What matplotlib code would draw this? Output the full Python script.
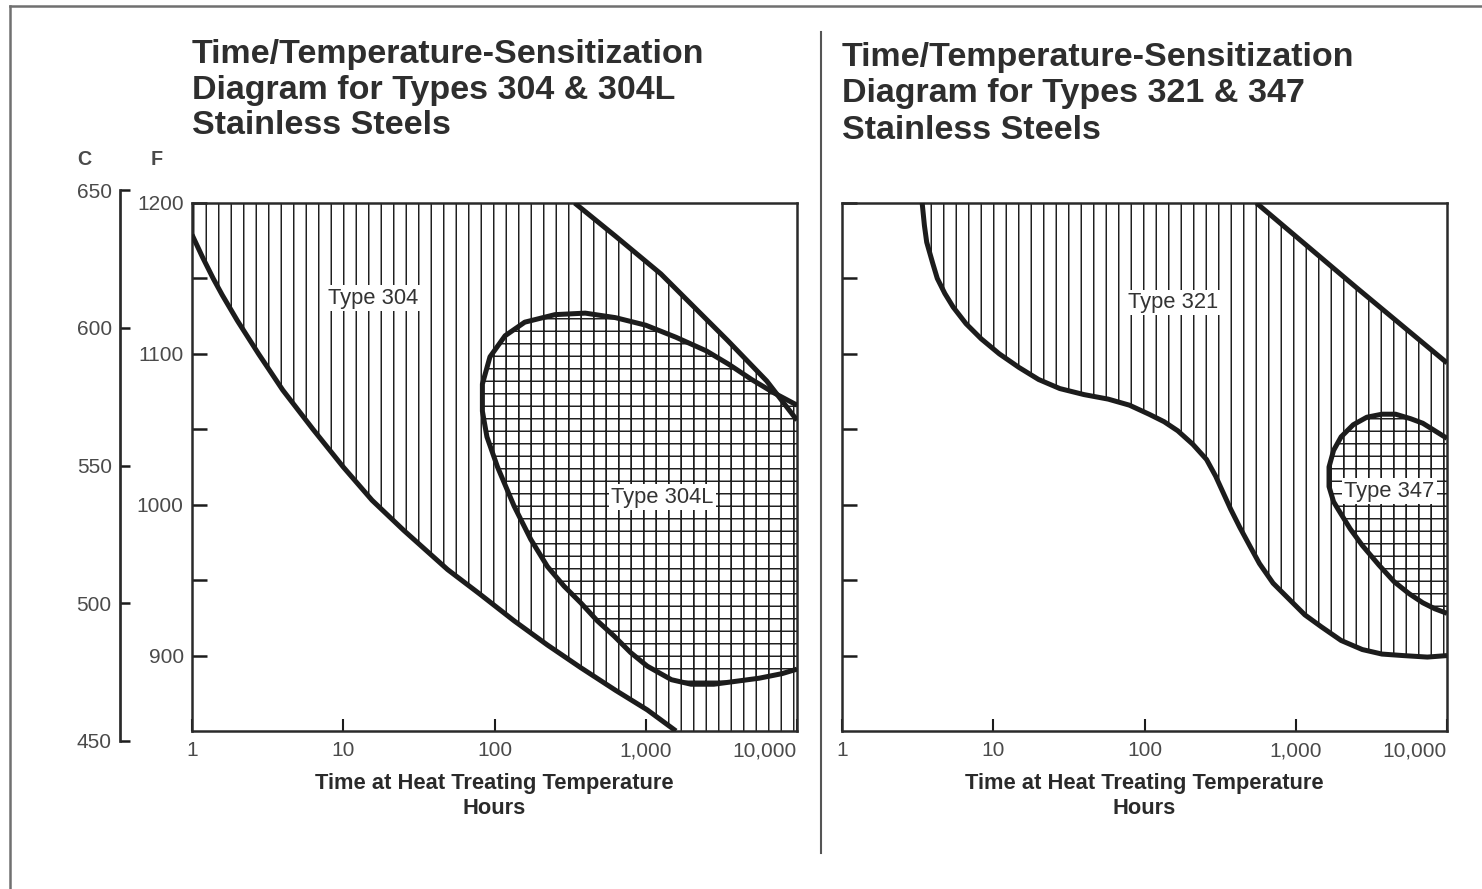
import matplotlib
matplotlib.use('Agg')
import matplotlib.pyplot as plt
from matplotlib.lines import Line2D
from matplotlib.patches import Polygon
from matplotlib.ticker import NullLocator
import numpy as np

plt.rcParams['font.family'] = ['Liberation Sans', 'DejaVu Sans']
plt.rcParams['hatch.linewidth'] = 0.7
plt.rcParams['hatch.color'] = '#222222'

# ---- data: log10(hours) and temperature (F) ----
# Types 304 / 304L
t304_low_logh = [0.0, 0.07, 0.14, 0.2, 0.3, 0.44, 0.6, 0.8, 1.0, 1.19, 1.4,
                 1.69, 1.9, 2.13, 2.35, 2.57, 2.8, 3.01, 3.2]
t304_low_F = [1179, 1164, 1150, 1139, 1122, 1100, 1076, 1050, 1025, 1003, 983,
              957, 941, 923, 907, 892, 877, 864, 850]
t304_up_logh = [2.53, 2.8, 3.1, 3.3, 3.54, 3.8, 4.0]
t304_up_F = [1200, 1178, 1153, 1133, 1109, 1082, 1056]
t304L_logh = [4.0, 3.85, 3.7, 3.55, 3.4, 3.2, 3.0, 2.8, 2.6, 2.4, 2.2, 2.07, 1.97, 1.92,
              1.92, 1.95, 2.02, 2.13, 2.24, 2.35, 2.46, 2.57, 2.68, 2.79, 2.9, 3.01,
              3.17, 3.3, 3.45, 3.6, 3.75, 3.9, 4.0]
t304L_F = [1066, 1074, 1083, 1093, 1102, 1111, 1119, 1124, 1127, 1126, 1121, 1112, 1098, 1080,
           1062, 1045, 1025, 999, 977, 959, 946, 935, 923, 913, 902, 893,
           884, 881, 881, 883, 885, 888, 891]

# Types 321 / 347
t321_low_logh = [0.53, 0.545, 0.56, 0.6, 0.63, 0.68, 0.735, 0.82, 0.92, 1.04, 1.17, 1.3,
                 1.44, 1.6, 1.76, 1.9, 2.03, 2.13, 2.22, 2.32, 2.41, 2.47, 2.52, 2.57,
                 2.63, 2.7, 2.76, 2.85, 2.95, 3.06, 3.17, 3.3, 3.44, 3.57, 3.71, 3.87, 4.0]
t321_low_F = [1200, 1185, 1174, 1160, 1150, 1140, 1131, 1120, 1110, 1100, 1091, 1083,
              1077, 1073, 1070, 1066, 1060, 1055, 1049, 1040, 1030, 1019, 1008, 997,
              985, 972, 961, 948, 938, 927, 919, 910, 904, 901, 900, 899, 900]
t321_up_logh = [2.74, 3.4, 4.0]
t321_up_F = [1200, 1144, 1094]
t347_logh = [4.0, 3.92, 3.84, 3.76, 3.66, 3.57, 3.47, 3.38, 3.3, 3.25, 3.22, 3.22, 3.25,
             3.28, 3.36, 3.44, 3.55, 3.65, 3.75, 3.84, 3.92, 4.0]
t347_F = [1044, 1049, 1054, 1057, 1060, 1060, 1058, 1053, 1045, 1036, 1025, 1012, 1002,
          997, 984, 973, 960, 949, 941, 935, 931, 928]

time_ticks = [1, 10, 100, 1000, 10000]
time_labels = ['1', '10', '100', '1,000', '10,000']
f_ticks = [900, 1000, 1100, 1200]
f_minor = [950, 1050, 1150]
c_ticks = [450, 500, 550, 600, 650]

INK = '#1c1c1c'
GREY = '#4a4a4a'
W, H = 1482, 889


def hrs(logh):
    return 10 ** np.asarray(logh, dtype=float)


def draw_panel(ax, low, up, oval, band_name, band_pos, oval_name, oval_pos, show_f):
    lx, ly = hrs(low[0]), np.asarray(low[1], float)
    ux, uy = hrs(up[0]), np.asarray(up[1], float)
    ox, oy = hrs(oval[0]), np.asarray(oval[1], float)

    # sensitized band (vertical hatch)
    bx = np.concatenate([[1], lx, [1e4], ux[::-1]])
    by = np.concatenate([[1200], ly, [850], uy[::-1]])
    ax.add_patch(Polygon(np.column_stack([bx, by]), closed=True, facecolor='none',
                         edgecolor=INK, hatch='||', lw=0, zorder=1))
    # low-carbon / stabilized grade (cross hatch), closed on the right edge
    ax.add_patch(Polygon(np.column_stack([ox, oy]), closed=True, facecolor='none',
                         edgecolor=INK, hatch='++', lw=0, zorder=1))

    for x, y in [(lx, ly), (ux, uy), (ox, oy)]:
        ax.plot(x, y, color=INK, lw=2.4, solid_capstyle='butt',
                solid_joinstyle='round', zorder=3)

    box = dict(facecolor='white', edgecolor='none', pad=1.0)
    ax.text(10 ** band_pos[0], band_pos[1], band_name, ha='center', va='center',
            fontsize=10.5, color='#333333', bbox=box, zorder=4)
    ax.text(10 ** oval_pos[0], oval_pos[1], oval_name, ha='center', va='center',
            fontsize=10.5, color='#333333', bbox=box, zorder=4)

    ax.set_xscale('log')
    ax.set_xlim(1, 1e4)
    ax.set_ylim(850, 1200)
    ax.set_xticks(time_ticks)
    ax.set_xticklabels(time_labels)
    ax.xaxis.set_minor_locator(NullLocator())
    ax.get_xticklabels()[-1].set_horizontalalignment('right')
    ax.set_yticks(f_ticks)
    ax.set_yticks(f_minor, minor=True)
    ax.tick_params(axis='x', which='both', direction='in', length=6, width=1.0,
                   pad=5, labelsize=10, labelcolor=GREY, color=INK)
    ax.tick_params(axis='y', which='both', direction='in', length=7, width=1.2,
                   pad=4, labelsize=10, labelcolor=GREY, color=INK,
                   labelleft=show_f)
    for s in ax.spines.values():
        s.set_linewidth(1.2)
        s.set_color('#2a2a2a')
    ax.set_xlabel('Time at Heat Treating Temperature\nHours', fontsize=10.5,
                  fontweight='bold', color='#2a2a2a', linespacing=1.25, labelpad=6)


fig = plt.figure(figsize=(W / 150, H / 150), dpi=150)
fig.patch.set_facecolor('white')

ax1 = fig.add_axes([192 / W, 1 - 731 / H, 605 / W, 528 / H])
ax2 = fig.add_axes([842 / W, 1 - 731 / H, 605 / W, 528 / H])

draw_panel(ax1, (t304_low_logh, t304_low_F), (t304_up_logh, t304_up_F),
           (t304L_logh, t304L_F), 'Type 304', (1.2, 1137), 'Type 304L', (3.11, 1005), True)
draw_panel(ax2, (t321_low_logh, t321_low_F), (t321_up_logh, t321_up_F),
           (t347_logh, t347_F), 'Type 321', (2.19, 1134), 'Type 347', (3.62, 1009), False)

# Celsius scale on the far left
axc = fig.add_axes([120 / W, 1 - 741 / H, 0.002, 551 / H])
axc.set_ylim(450, 650)
axc.set_yticks(c_ticks)
axc.set_xticks([])
for k in ['top', 'right', 'bottom']:
    axc.spines[k].set_visible(False)
axc.spines['left'].set_linewidth(1.3)
axc.spines['left'].set_color('#2a2a2a')
axc.patch.set_visible(False)
axc.tick_params(axis='y', direction='in', length=5, width=1.2, pad=4,
                labelsize=10, labelcolor=GREY, color=INK)

fig.text(84 / W, 1 - 160 / H, 'C', ha='center', va='center', fontsize=9.5,
         fontweight='bold', color=GREY)
fig.text(157 / W, 1 - 160 / H, 'F', ha='center', va='center', fontsize=9.5,
         fontweight='bold', color=GREY)

# titles
fig.text(192 / W, 1 - 39 / H,
         'Time/Temperature-Sensitization\nDiagram for Types 304 & 304L\nStainless Steels',
         ha='left', va='top', fontsize=16.3, fontweight='bold', color='#2e2e2e',
         linespacing=1.19)
fig.text(842 / W, 1 - 42 / H,
         'Time/Temperature-Sensitization\nDiagram for Types 321 & 347\nStainless Steels',
         ha='left', va='top', fontsize=16.3, fontweight='bold', color='#2e2e2e',
         linespacing=1.22)

# page frame and divider from the scanned sheet
fig.add_artist(Line2D([10 / W, 1], [1 - 6 / H, 1 - 6 / H], color='#707070', lw=1.2))
fig.add_artist(Line2D([10 / W, 10 / W], [0, 1 - 6 / H], color='#707070', lw=1.2))
fig.add_artist(Line2D([821 / W, 821 / W], [1 - 853 / H, 1 - 32 / H], color='#555555', lw=1.0))

fig.savefig('out.png', dpi=150, facecolor='white')
